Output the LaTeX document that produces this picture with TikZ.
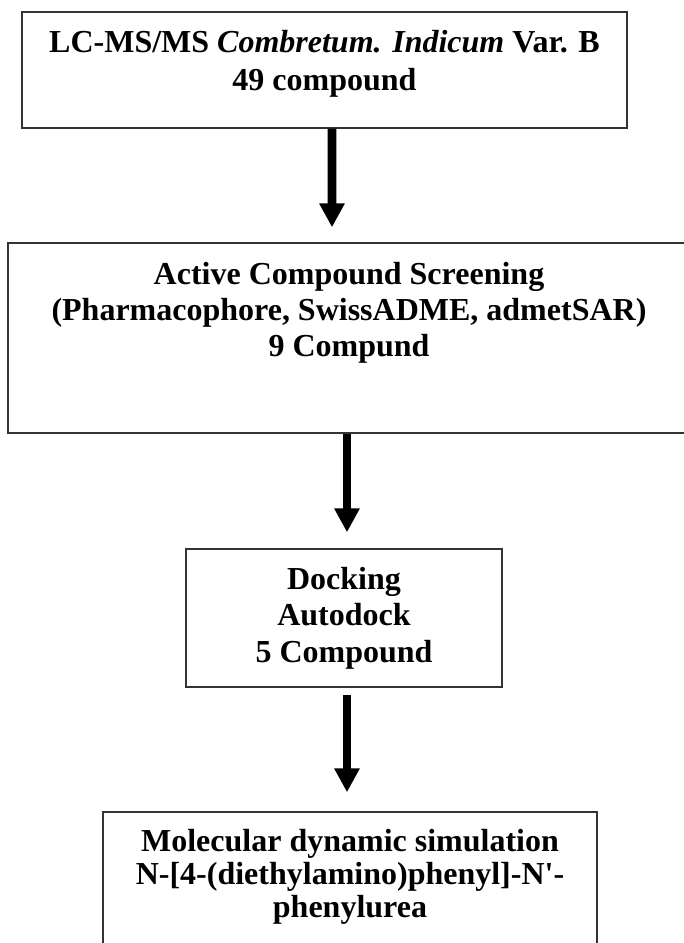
\documentclass[tikz,border=0pt]{standalone}
\usepackage{fontspec}
\setmainfont{Liberation Serif}
\usetikzlibrary{arrows.meta}
\tikzset{
  stage/.style={draw=black!80, line width=1pt, rectangle, align=center, inner sep=0pt},
  leading/.style={font=\bfseries\fontsize{24}{#1}\selectfont},
  flow/.style={line width=6.5pt, -{Triangle[width=18pt,length=18pt]}},
}
\newcommand{\padbelow}[1]{\rule[-#1]{0pt}{#1}}

\begin{document}
\begin{tikzpicture}[x=0.75pt, y=-0.75pt]
    \clip (0,0) rectangle (684,943);

    \node (source) [stage, leading=28.5pt, minimum width=453.75pt, minimum height=87pt] at (324.5,70)
        {LC-MS/MS \textit{Combretum. Indicum} Var. B\\49 compound\padbelow{15pt}};
    \node (screen) [stage, leading=27pt, minimum width=511.5pt, minimum height=142.5pt] at (349,338)
        {Active Compound Screening\\(Pharmacophore, SwissADME, admetSAR)\\9 Compund\padbelow{43.5pt}};
    \node (dock) [stage, leading=27.4pt, minimum width=237pt, minimum height=103.5pt] at (344,618)
        {Docking\\Autodock\\5 Compound};
    \node (md) [stage, leading=24.5pt, minimum width=370.5pt, minimum height=111pt] at (350,886)
        {Molecular dynamic simulation\\N-[4-(diethylamino)phenyl]-N\textquotesingle-\\phenylurea\padbelow{18.75pt}};

    \draw[flow, shorten >=11.25pt] ([xshift=5.6pt]source.south) -- ([xshift=-12.75pt]screen.north);
    \draw[flow, shorten >=12pt] ([xshift=-1.5pt]screen.south) -- ([xshift=2.25pt]dock.north);
    \draw[flow, shorten <=5.25pt, shorten >=14.25pt] ([xshift=2.25pt]dock.south) -- ([xshift=-2.25pt]md.north);
\end{tikzpicture}
\end{document}
